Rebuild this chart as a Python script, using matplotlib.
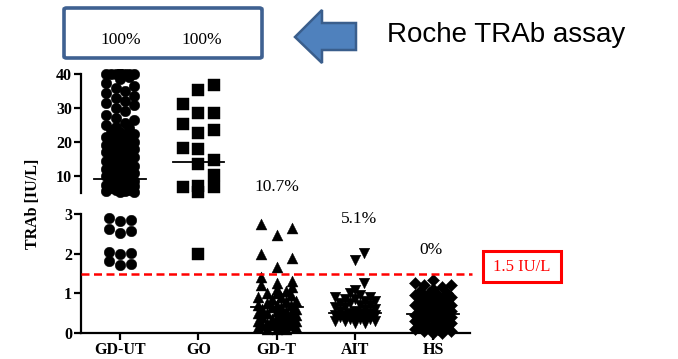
import matplotlib
matplotlib.use('Agg')
import matplotlib.pyplot as plt
import numpy as np
from matplotlib.patches import Polygon, FancyBboxPatch, Rectangle

plt.rcParams['font.family'] = ['Liberation Serif', 'DejaVu Serif']

groups = ['GD-UT', 'GO', 'GD-T', 'AIT', 'HS']
markers = ['o', 's', '^', 'v', 'D']
marker_sizes = [58, 64, 62, 58, 38]

# TRAb values per group (IU/L), values above 40 shown at 40
gd_ut = [40, 40, 40, 40, 40, 40, 40, 40, 40, 40, 40, 40, 40, 40,
         39, 38.5, 37.5, 36.5, 36, 35, 34.5, 33.5, 33, 32, 31.5, 31, 30,
         29, 28, 27, 26.5, 25.5, 25, 24.5, 24, 23.5, 23, 22.5, 22, 22,
         21.5, 21, 21, 20.5, 20, 20, 19.5, 19, 19, 18.5, 18, 18, 17.5, 17,
         17, 16.5, 16, 16, 15.5, 15, 15, 14.5, 14, 14, 13.5, 13, 13, 12.5,
         12, 12, 11.5, 11, 11, 10.5, 10, 10, 9.5, 9, 9, 8.5, 8, 8, 7.5, 7,
         7, 6.5, 6, 6, 5.5, 5.5, 5.2, 5.2,
         2.89, 2.86, 2.83, 2.61, 2.58, 2.53, 2.05, 2.02, 1.99, 1.81, 1.75, 1.71]
go = [36.8, 35.3, 31.2, 28.6, 28.4, 25.2, 23.5, 22.7, 18.1, 17.9, 14.7,
      13.5, 10.3, 7.2, 6.9, 6.9, 5.4, 2.0]
gd_t = [2.74, 2.64, 2.47, 2.0, 1.9, 1.67,
        1.4, 1.3, 1.25, 1.2, 1.15, 1.1, 1.05, 1.0, 1.0, 0.95, 0.9, 0.9, 0.85,
        0.8, 0.8, 0.75, 0.7, 0.7, 0.7, 0.65, 0.65, 0.6, 0.6, 0.55, 0.55, 0.5,
        0.5, 0.5, 0.45, 0.45, 0.4, 0.4, 0.4, 0.35, 0.35, 0.3, 0.3, 0.3, 0.25,
        0.25, 0.25, 0.2, 0.2, 0.2, 0.15, 0.15, 0.15, 0.1, 0.1, 0.1]
ait = [2.02, 1.85, 1.25, 1.08,
       1.0, 0.95, 0.9, 0.9, 0.85, 0.85, 0.8, 0.8, 0.75, 0.75, 0.7, 0.7, 0.65,
       0.65, 0.6, 0.6, 0.55, 0.55, 0.5, 0.5, 0.5, 0.45, 0.45, 0.45, 0.4, 0.4,
       0.4, 0.35, 0.35, 0.35, 0.3, 0.3, 0.3, 0.25, 0.25]
hs = [1.2, 1.33, 1.25, 1.2, 1.15, 1.1, 1.05, 1.0, 1.0, 0.95, 0.95, 0.9, 0.9,
      0.85, 0.85, 0.8, 0.8, 0.75, 0.75, 0.7, 0.7, 0.7, 0.65, 0.65, 0.6, 0.6,
      0.6, 0.55, 0.55, 0.5, 0.5, 0.5, 0.45, 0.45, 0.45, 0.4, 0.4, 0.4, 0.35,
      0.35, 0.3, 0.3, 0.3, 0.25, 0.25, 0.2, 0.2, 0.2, 0.15, 0.15, 0.1, 0.1,
      0.05, 0.05, 0.0, 0.0]
data = [gd_ut, go, gd_t, ait, hs]
medians = [9.1, 14.1, 0.66, 0.5, 0.48]
pct_labels = ['100%', '100%', '10.7%', '5.1%', '0%']
cutoff = 1.5

# swarm settings per group (pixels): min distance, half width, column step
swarm_cfg = [(10, 18, 4.6), (15, 16, 15.5), (10, 19, 4.75), (10, 20, 5), (9, 21, 4.5)]
sparse_cfg = {2: (15, 16, 15.5), 3: (11, 9, 9)}

fig = plt.figure(figsize=(6.78, 3.59), dpi=100)
W, H = 678.0, 359.0
ax_up = fig.add_axes([81 / W, 1 - 193 / H, 389 / W, 119 / H])
ax_lo = fig.add_axes([81 / W, 1 - 333 / H, 389 / W, 119 / H])
ax_up.set_ylim(5, 40)
ax_lo.set_ylim(0, 3)
for ax in (ax_up, ax_lo):
    ax.set_xlim(-0.5, 4.47)
    ax.spines['top'].set_visible(False)
    ax.spines['right'].set_visible(False)
    ax.spines['left'].set_linewidth(1.6)
    ax.spines['bottom'].set_linewidth(1.6)
    ax.tick_params(axis='both', length=5, width=1.6, pad=1.5, labelsize=11.5)
ax_up.spines['bottom'].set_visible(False)
ax_up.set_xticks([])
ax_up.set_yticks([10, 20, 30, 40])
ax_lo.set_yticks([0, 1, 2, 3])
ax_lo.set_xticks(range(len(groups)))
ax_lo.set_xticklabels(groups)
for ax in (ax_up, ax_lo):
    for lab in ax.get_yticklabels() + ax.get_xticklabels():
        lab.set_fontweight('bold')


def swarm(ax, xc, vals, diam, half, step):
    pts = ax.transData.transform(np.column_stack([np.full(len(vals), xc), vals]))
    ypx = pts[:, 1]
    ppx = ax.transData.transform([[1, 0]])[0, 0] - ax.transData.transform([[0, 0]])[0, 0]
    cands = [0.0]
    k = 1
    while k * step <= half + 0.01:
        cands += [k * step, -k * step]
        k += 1
    placed_x, placed_y = [], []
    offs = np.zeros(len(vals))
    for i in np.argsort(ypx, kind='stable'):
        y = ypx[i]
        best, best_d = 0.0, -1.0
        for c in cands:
            if placed_x:
                d = np.min(np.hypot(np.array(placed_x) - c, np.array(placed_y) - y))
            else:
                d = np.inf
            if d >= diam * 0.95:
                best = c
                break
            if d > best_d:
                best, best_d = c, d
        offs[i] = best
        placed_x.append(best)
        placed_y.append(y)
    return xc + offs / ppx


for i, vals in enumerate(data):
    vals = np.array(vals, dtype=float)
    diam, half, step = swarm_cfg[i]
    for ax, sel in ((ax_up, vals >= 4.5), (ax_lo, vals <= 3.2)):
        v = vals[sel]
        if len(v) == 0:
            continue
        if i == 0 and ax is ax_lo:
            xs = swarm(ax, i, v, 10, 17, 5.5)
        elif i in sparse_cfg:
            # loose points above the dense cluster are laid out on their own
            loose = v > 1.05
            xs = np.empty(len(v))
            xs[~loose] = swarm(ax, i, v[~loose], diam, half, step)
            xs[loose] = swarm(ax, i, v[loose], *sparse_cfg[i])
        else:
            xs = swarm(ax, i, v, diam, half, step)
        ax.scatter(xs, v, s=marker_sizes[i], marker=markers[i], color='black',
                   edgecolors='black', linewidths=0.3, clip_on=False, zorder=3)
    med_ax = ax_up if medians[i] >= 4.5 else ax_lo
    med_ax.plot([i - 0.33, i + 0.33], [medians[i], medians[i]], color='black',
                lw=1.3, zorder=4, clip_on=False)

# cut-off line
ax_lo.plot([-0.5, 4.5], [cutoff, cutoff], color='red', lw=1.8,
           dashes=(3.2, 1.8), clip_on=False, zorder=5)

# percent labels
fig.text(121 / W, 1 - 40 / H, pct_labels[0], ha='center', va='center', fontsize=12.5)
fig.text(202 / W, 1 - 40 / H, pct_labels[1], ha='center', va='center', fontsize=12.5)
ax_lo.text(2, 3.68, pct_labels[2], ha='center', va='center', fontsize=12.5, clip_on=False)
ax_lo.text(3.05, 2.87, pct_labels[3], ha='center', va='center', fontsize=12.5)
ax_lo.text(3.97, 2.09, pct_labels[4], ha='center', va='center', fontsize=12.5)

# cut-off label box
fig.patches.append(Rectangle((483 / W, 1 - 282 / H), 78 / W, 31 / H,
                             transform=fig.transFigure, fill=False,
                             edgecolor='red', lw=2.2))
fig.text(522 / W, 1 - 267 / H, '1.5 IU/L', color='red', ha='center',
         va='center', fontsize=12)

fig.text(33 / W, 1 - 204 / H, 'TRAb [IU/L]', rotation=90, ha='center',
         va='center', fontsize=11.5, fontweight='bold')

# blue box around 100% labels
fig.patches.append(FancyBboxPatch((64 / W, 1 - 58 / H), 198 / W, 50 / H,
                                  boxstyle='round,pad=0,rounding_size=0.004',
                                  transform=fig.transFigure, fill=False,
                                  edgecolor='#3F6191', lw=2.6))

# arrow
arrow_px = [(295, 37), (322, 10), (322, 23), (356, 23), (356, 50), (322, 50), (322, 63)]
fig.patches.append(Polygon([(x / W, 1 - y / H) for x, y in arrow_px], closed=True,
                           transform=fig.transFigure, facecolor='#4F81BD',
                           edgecolor='#3A5E8C', lw=1.8))
fig.text(387 / W, 1 - 35 / H, 'Roche TRAb assay', ha='left', va='center',
         fontsize=20, family='Liberation Sans')

fig.savefig('out.png', dpi=100)
